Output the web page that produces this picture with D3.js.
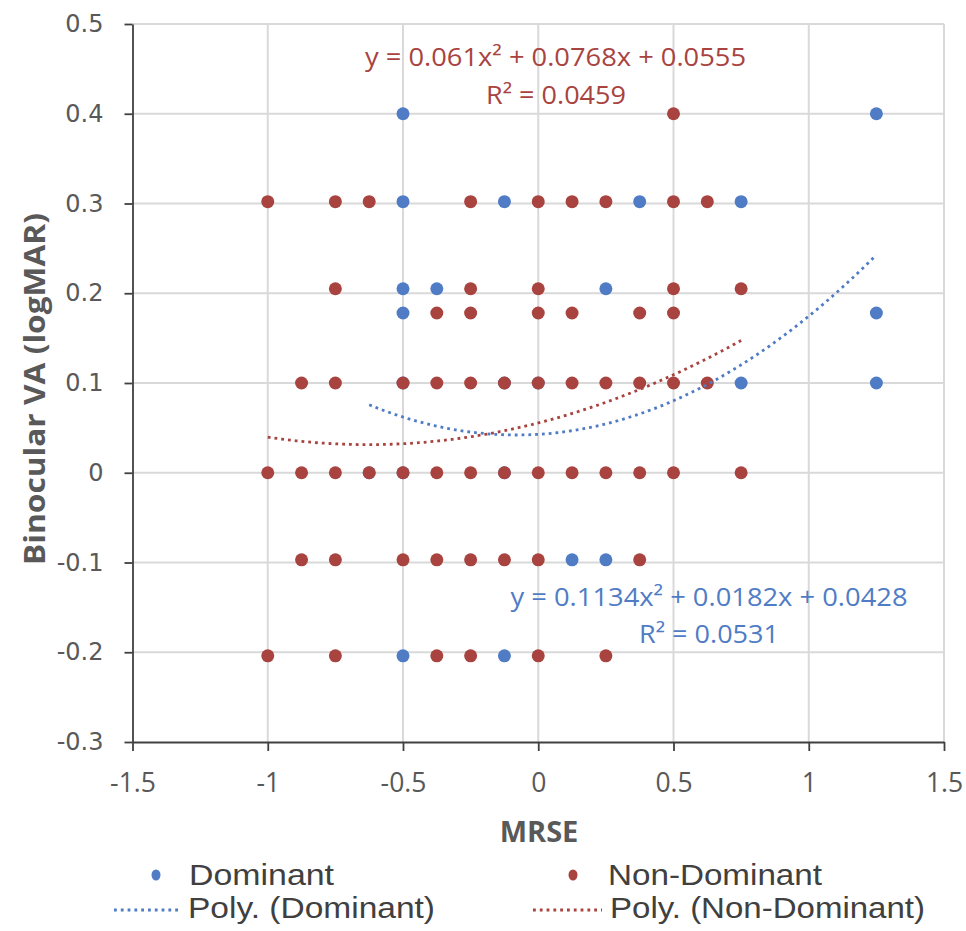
<!DOCTYPE html>
<html>
<head>
<meta charset="utf-8">
<script src="https://cdn.jsdelivr.net/npm/d3@7/dist/d3.min.js"></script>
<style>
  html, body { margin: 0; padding: 0; background: #fff; }
  svg { display: block; }
</style>
</head>
<body>
<svg id="chart" width="966" height="931"></svg>
<script>
// ---------------- DATA ----------------
const xTicks = [-1.5, -1, -0.5, 0, 0.5, 1, 1.5];
const xTickLabels = ["-1.5", "-1", "-0.5", "0", "0.5", "1", "1.5"];
const yTicks = [-0.3, -0.2, -0.1, 0, 0.1, 0.2, 0.3, 0.4, 0.5];
const yTickLabels = ["-0.3", "-0.2", "-0.1", "0", "0.1", "0.2", "0.3", "0.4", "0.5"];

// Dominant eye (blue)
const dominantX = [-0.5, 1.25,
                   -0.5, -0.125, 0.375, 0.75,
                   -0.5, -0.375, 0.25,
                   -0.5, 1.25,
                   0.75, 1.25, -0.5, -0.125, 0,
                   -0.625, -0.5, -0.125,
                   0.125, 0.25,
                   -0.5, -0.125];
const dominantY = [0.4, 0.4,
                   0.302, 0.302, 0.302, 0.302,
                   0.205, 0.205, 0.205,
                   0.178, 0.178,
                   0.1, 0.1, 0.1, 0.1, 0.1,
                   0, 0, 0,
                   -0.097, -0.097,
                   -0.204, -0.204];

// Non-dominant eye (red)
const nonDominantX = [0.5,
                      -1, -0.75, -0.625, -0.25, 0, 0.125, 0.25, 0.5, 0.625,
                      -0.75, -0.25, 0, 0.5, 0.75,
                      -0.375, -0.25, 0, 0.125, 0.375, 0.5,
                      -0.875, -0.75, -0.5, -0.375, -0.25, -0.125, 0, 0.125, 0.25, 0.375, 0.5, 0.625,
                      -1, -0.875, -0.75, -0.625, -0.5, -0.375, -0.25, -0.125, 0, 0.125, 0.25, 0.375, 0.5, 0.75,
                      -0.875, -0.75, -0.5, -0.375, -0.25, -0.125, 0, 0.375,
                      -1, -0.75, -0.375, -0.25, 0, 0.25];
const nonDominantY = [0.4,
                      0.302, 0.302, 0.302, 0.302, 0.302, 0.302, 0.302, 0.302, 0.302,
                      0.205, 0.205, 0.205, 0.205, 0.205,
                      0.178, 0.178, 0.178, 0.178, 0.178, 0.178,
                      0.1, 0.1, 0.1, 0.1, 0.1, 0.1, 0.1, 0.1, 0.1, 0.1, 0.1, 0.1,
                      0, 0, 0, 0, 0, 0, 0, 0, 0, 0, 0, 0, 0, 0,
                      -0.097, -0.097, -0.097, -0.097, -0.097, -0.097, -0.097, -0.097,
                      -0.204, -0.204, -0.204, -0.204, -0.204, -0.204];

// Trendline coefficients (as displayed): y = a x^2 + b x + c
const dominantPoly = [0.1134, 0.0182, 0.0428];
const nonDominantPoly = [0.061, 0.0768, 0.0555];
const dominantEq = ["y = 0.1134x² + 0.0182x + 0.0428", "R² = 0.0531"];
const nonDominantEq = ["y = 0.061x² + 0.0768x + 0.0555", "R² = 0.0459"];
const legendLabels = ["Dominant", "Non-Dominant", "Poly. (Dominant)", "Poly. (Non-Dominant)"];
const xTitle = "MRSE";
const yTitle = "Binocular VA (logMAR)";

// ---------------- DRAW ----------------
const BLUE = "#4f7cc5";
const RED = "#a8433f";
const svg = d3.select("#chart");
const FONT = "'Open Sans', 'Noto Sans', sans-serif";
const LEGFONT = "'Liberation Sans', Arial, sans-serif";

const x = d3.scaleLinear().domain([-1.5, 1.5]).range([132.5, 944]);
const y = d3.scaleLinear().domain([-0.3, 0.5]).range([742, 24]);

// gridlines
const grid = svg.append("g");
grid.selectAll("line.v").data(xTicks.slice(1)).join("line")
  .attr("x1", d => x(d)).attr("x2", d => x(d))
  .attr("y1", y(0.5)).attr("y2", y(-0.3))
  .attr("stroke", "#d9d9d9").attr("stroke-width", 2);
grid.selectAll("line.h").data(yTicks.slice(1)).join("line")
  .attr("x1", x(-1.5)).attr("x2", x(1.5))
  .attr("y1", d => y(d)).attr("y2", d => y(d))
  .attr("stroke", "#d9d9d9").attr("stroke-width", 2);

// axes
const yAxis = svg.append("g").attr("transform", `translate(${x(-1.5)},0)`)
  .call(d3.axisLeft(y).tickValues(yTicks).tickFormat((d, i) => yTickLabels[i])
    .tickSize(8).tickSizeOuter(0).tickPadding(21));
yAxis.selectAll("path, line").attr("stroke", "#404040").attr("stroke-width", 1.8);
yAxis.selectAll("text").attr("font-family", "'DejaVu Sans', Verdana, sans-serif")
  .attr("font-size", 24).attr("fill", "#595959");

const xAxis = svg.append("g").attr("transform", `translate(0,${y(-0.3)})`)
  .call(d3.axisBottom(x).tickValues(xTicks).tickFormat((d, i) => xTickLabels[i])
    .tickSize(9).tickSizeOuter(0));
xAxis.selectAll("path, line").attr("stroke", "#404040").attr("stroke-width", 1.8);
xAxis.selectAll("text").attr("font-family", FONT).attr("font-size", 26.5)
  .attr("fill", "#595959").attr("y", 50).attr("dy", null);

// axis titles
svg.append("text").attr("x", 539).attr("y", 842).attr("text-anchor", "middle")
  .attr("font-family", FONT).attr("font-weight", "bold").attr("font-size", 29)
  .attr("fill", "#595959").text(xTitle);
svg.append("text").attr("transform", "translate(45,389) rotate(-90)")
  .attr("text-anchor", "middle").attr("font-family", FONT).attr("font-weight", "bold")
  .attr("font-size", 29).attr("fill", "#595959")
  .attr("textLength", 352).attr("lengthAdjust", "spacingAndGlyphs").text(yTitle);

// trendlines
function polyLine(coef, x0, x1) {
  const pts = d3.range(0, 101).map(i => {
    const xv = x0 + (x1 - x0) * i / 100;
    return [xv, coef[0] * xv * xv + coef[1] * xv + coef[2]];
  });
  return d3.line().x(d => x(d[0])).y(d => y(d[1]))(pts);
}
const dotStyle = sel => sel.attr("fill", "none").attr("stroke-width", 2.8)
  .attr("stroke-dasharray", "2.8 4");

// points (blue first, red on top)
svg.append("g").selectAll("circle").data(dominantX).join("circle")
  .attr("cx", d => x(d)).attr("cy", (d, i) => y(dominantY[i])).attr("r", 6.5).attr("fill", BLUE);
svg.append("g").selectAll("circle").data(nonDominantX).join("circle")
  .attr("cx", d => x(d)).attr("cy", (d, i) => y(nonDominantY[i])).attr("r", 6.5).attr("fill", RED);

svg.append("path").attr("d", polyLine(dominantPoly, d3.min(dominantX), d3.max(dominantX)))
  .attr("stroke", BLUE).call(dotStyle);
svg.append("path").attr("d", polyLine(nonDominantPoly, d3.min(nonDominantX), d3.max(nonDominantX)))
  .attr("stroke", RED).call(dotStyle);

// equations
function eqText(cx, cy, txt, w, color) {
  svg.append("text").attr("x", cx).attr("y", cy).attr("text-anchor", "middle")
    .attr("font-family", FONT).attr("font-size", 25).attr("fill", color)
    .attr("textLength", w).attr("lengthAdjust", "spacingAndGlyphs").text(txt);
}
eqText(555.5, 66, nonDominantEq[0], 381, RED);
eqText(556, 104, nonDominantEq[1], 140, RED);
eqText(709, 606, dominantEq[0], 397, BLUE);
eqText(709, 642.5, dominantEq[1], 140, BLUE);

// legend
const leg = svg.append("g");
function legText(x0, w, yb, txt) {
  leg.append("text").attr("x", x0).attr("y", yb).attr("font-family", LEGFONT)
    .attr("font-size", 29).attr("fill", "#404040")
    .attr("textLength", w).attr("lengthAdjust", "spacingAndGlyphs").text(txt);
}
leg.append("ellipse").attr("cx", 156).attr("cy", 875).attr("rx", 4.5).attr("ry", 5.5).attr("fill", BLUE);
legText(189, 145, 885, legendLabels[0]);
leg.append("ellipse").attr("cx", 573).attr("cy", 875).attr("rx", 4.5).attr("ry", 5.5).attr("fill", RED);
legText(608, 214, 885, legendLabels[1]);
leg.append("line").attr("x1", 114).attr("x2", 181).attr("y1", 910).attr("y2", 910)
  .attr("stroke", BLUE).call(dotStyle);
legText(188, 247, 918, legendLabels[2]);
leg.append("line").attr("x1", 533).attr("x2", 602).attr("y1", 910).attr("y2", 910)
  .attr("stroke", RED).call(dotStyle);
legText(610, 315, 918, legendLabels[3]);
</script>
</body>
</html>
